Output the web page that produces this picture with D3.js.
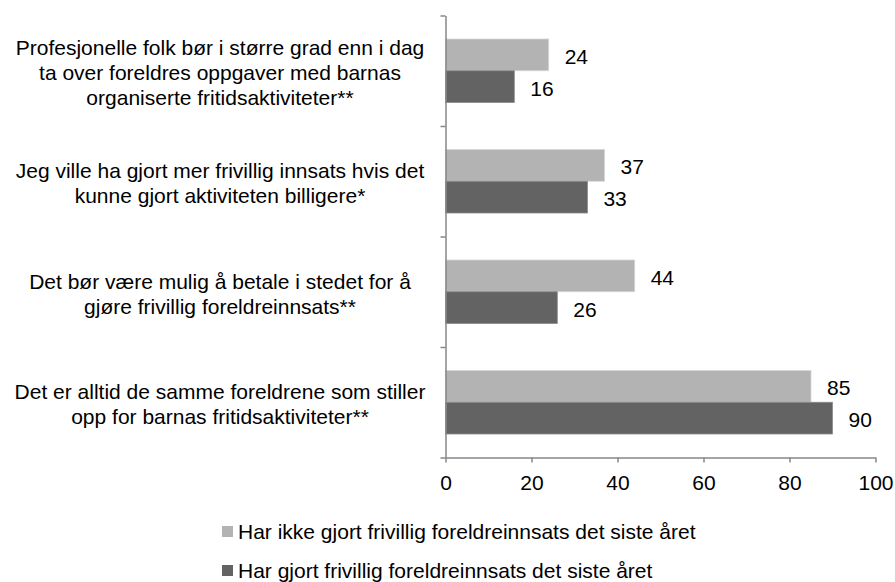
<!DOCTYPE html>
<html>
<head>
<meta charset="utf-8">
<script src="https://cdn.jsdelivr.net/npm/d3@7"></script>
<style>
  body { margin: 0; background: #fff; }
  svg { display: block; font-family: Arial, "Liberation Sans", sans-serif; }
</style>
</head>
<body>
<div id="chart"></div>
<script>
// category labels, already split in lines like the original
const categories = [
    ["Profesjonelle folk bør i større grad enn i dag", "ta over foreldres oppgaver med barnas", "organiserte fritidsaktiviteter**"],
    ["Jeg ville ha gjort mer frivillig innsats hvis det", "kunne gjort aktiviteten billigere*"],
    ["Det bør være mulig å betale i stedet for å", "gjøre frivillig foreldreinnsats**"],
    ["Det er alltid de samme foreldrene som stiller", "opp for barnas fritidsaktiviteter**"]
];
const seriesNames = [
    "Har ikke gjort frivillig foreldreinnsats det siste året",
    "Har gjort frivillig foreldreinnsats det siste året"
];
const notDone = [24, 37, 44, 85];
const done = [16, 33, 26, 90];
const xTicks = [0, 20, 40, 60, 80, 100];

const width = 895, height = 582;
const plotLeft = 445.5, plotRight = 875.5, plotTop = 15.5, plotBottom = 457.5;
const colors = ["#b3b3b3", "#636363"];
const strokes = ["#d6d6d6", "#8a8a8a"];
const fontSize = "21px";

const svg = d3.select("#chart").append("svg")
    .attr("width", width)
    .attr("height", height);

const x = d3.scaleLinear().domain([0, 100]).range([plotLeft, plotRight]);
const y0 = d3.scaleBand().domain(d3.range(categories.length)).range([plotTop, plotBottom]);
const y1 = d3.scaleBand().domain([0, 1]).range([0, y0.bandwidth()]).paddingOuter(0.74);

const rows = categories.map((c, i) => ({ i: i, lines: c, vals: [notDone[i], done[i]] }));

// bars
const groups = svg.append("g").selectAll("g")
    .data(rows)
    .enter().append("g")
    .attr("transform", d => "translate(0," + y0(d.i) + ")");

groups.selectAll("rect")
    .data(d => d.vals.map((v, s) => ({ v: v, s: s })))
    .enter().append("rect")
    .attr("x", x(0))
    .attr("y", d => y1(d.s))
    .attr("width", d => x(d.v) - x(0))
    .attr("height", y1.bandwidth())
    .style("fill", d => colors[d.s])
    .style("stroke", d => strokes[d.s])
    .style("stroke-width", 0.8);

groups.selectAll("text.val")
    .data(d => d.vals.map((v, s) => ({ v: v, s: s })))
    .enter().append("text")
    .attr("class", "val")
    .attr("x", d => x(d.v) + 16)
    .attr("y", d => y1(d.s) + y1.bandwidth() / 2 + 1.5)
    .attr("dominant-baseline", "central")
    .style("font-size", fontSize)
    .style("fill", "#000")
    .text(d => d.v);

// category labels
const labels = svg.append("g").selectAll("text")
    .data(rows)
    .enter().append("text")
    .attr("text-anchor", "middle")
    .style("font-size", fontSize)
    .style("fill", "#000");

labels.each(function(d) {
    const n = d.lines.length;
    const cy = y0(d.i) + y0.bandwidth() / 2 + 2;
    d3.select(this).selectAll("tspan")
        .data(d.lines)
        .enter().append("tspan")
        .attr("x", 220)
        .attr("y", (l, k) => cy + (k - (n - 1) / 2) * 25)
        .attr("dominant-baseline", "central")
        .text(l => l);
});

// y axis (ticks between categories)
const yIdx = d3.scaleLinear().domain([0, categories.length]).range([plotTop, plotBottom]);
const yAxis = svg.append("g")
    .attr("transform", "translate(" + plotLeft + ",0)")
    .call(d3.axisLeft(yIdx).tickValues(d3.range(categories.length + 1)).tickFormat("").tickSize(5).tickSizeOuter(0));

// x axis
const xAxis = svg.append("g")
    .attr("transform", "translate(0," + plotBottom + ")")
    .call(d3.axisBottom(x).tickValues(xTicks).tickSize(5).tickSizeOuter(0).tickPadding(13));

[yAxis, xAxis].forEach(a => {
    a.select(".domain").style("stroke", "#878787").style("stroke-width", 1.5);
    a.selectAll(".tick line").style("stroke", "#878787").style("stroke-width", 1.5);
});
xAxis.selectAll("text")
    .style("font-size", fontSize)
    .style("font-family", "Arial, 'Liberation Sans', sans-serif")
    .style("fill", "#000");

// legend
const legend = svg.append("g").selectAll("g")
    .data(seriesNames)
    .enter().append("g")
    .attr("transform", (d, i) => "translate(222," + (526 + i * 39) + ")");

legend.append("rect")
    .attr("width", 11)
    .attr("height", 11)
    .style("fill", (d, i) => colors[i]);

legend.append("text")
    .attr("x", 16)
    .attr("y", 5.5)
    .attr("dominant-baseline", "central")
    .style("font-size", fontSize)
    .style("fill", "#000")
    .text(d => d);
</script>
</body>
</html>
